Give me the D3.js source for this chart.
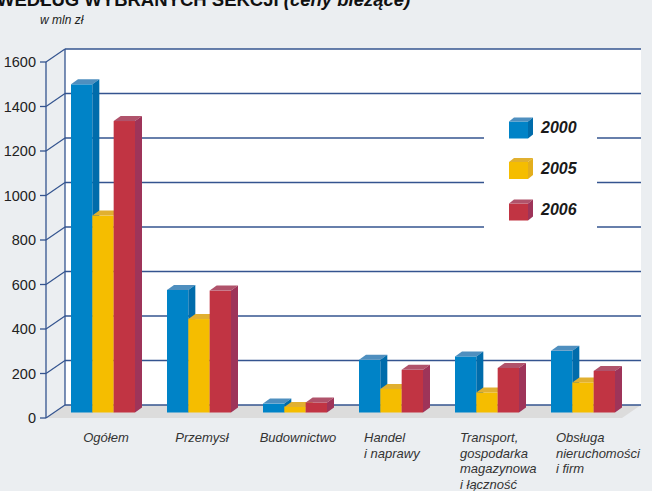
<!DOCTYPE html>
<html><head><meta charset="utf-8">
<script src="https://cdn.jsdelivr.net/npm/d3@7"></script>
<style>
html,body{margin:0;padding:0;background:#EBEEF1;}
svg{display:block;font-family:"Liberation Sans",Arial,sans-serif;}
</style></head>
<body>
<svg id="chart" width="652" height="491"></svg>
<script>
const categories = [["Ogółem"],["Przemysł"],["Budownictwo"],["Handel","i naprawy"],["Transport,","gospodarka","magazynowa","i łączność"],["Obsługa","nieruchomości","i firm"]];
const seriesNames = ["2000","2005","2006"];
const values2000 = [1475, 551, 40, 237, 252, 277];
const values2005 = [885, 420, 25, 106, 90, 135];
const values2006 = [1310, 548, 45, 192, 200, 187];
const yTicks = [0,200,400,600,800,1000,1200,1400,1600];

const seriesValues = [values2000, values2005, values2006];
const colors = [
  {front:"#0083C7", side:"#006CAB", top:"#4F8FBF"},
  {front:"#F5BD00", side:"#E3AE1C", top:"#E1B030"},
  {front:"#C13443", side:"#9E3459", top:"#B0536B"}
];

const svg = d3.select("#chart");
const yFront = d3.scaleLinear().domain([0,1600]).range([418,62]);
const DX = 19, DY = -13;        // depth of the chart box
const BDX = 8, BDY = -5.5;      // bar plane offset from front
const bdx = 7, bdy = -5;        // bar depth
const xGroup = d3.scaleBand().domain(d3.range(categories.length)).range([39,647]).paddingInner(1/3).paddingOuter(1/3);
const xSeries = d3.scaleBand().domain(d3.range(3)).range([0, xGroup.bandwidth()]);

// title (cut off at top, as in the reference)
const title = svg.append("text").attr("x",-3).attr("y",6).attr("font-size",18.5).attr("font-weight","bold").attr("fill","#111");
title.append("tspan").text("WEDŁUG WYBRANYCH SEKCJI ");
title.append("tspan").attr("font-style","italic").text("(ceny bieżące)");

svg.append("text").attr("x",40).attr("y",24).attr("font-size",12).attr("font-style","italic").attr("fill","#222").text("w mln zł");

// back wall
const backLeft = 46+DX, backRight = 641;
svg.append("rect").attr("x",backLeft).attr("y",yFront(1600)+DY).attr("width",backRight-backLeft).attr("height",yFront(0)-yFront(1600)).attr("fill","#fff");
// floor
svg.append("polygon").attr("points",[[46,yFront(0)],[backLeft,yFront(0)+DY],[backRight,yFront(0)+DY],[backRight-DX,yFront(0)]].join(" ")).attr("fill","#DCDCDC");

const lineColor = "#34548F";
svg.selectAll("line.grid").data(yTicks).enter().append("line")
  .attr("x1",backLeft).attr("x2",backRight)
  .attr("y1",d=>yFront(d)+DY).attr("y2",d=>yFront(d)+DY)
  .attr("stroke",lineColor).attr("stroke-width",1.3);
svg.append("line").attr("x1",backLeft).attr("x2",backLeft).attr("y1",yFront(1600)+DY).attr("y2",yFront(0)+DY).attr("stroke",lineColor).attr("stroke-width",1.3);
svg.selectAll("line.diag").data(yTicks).enter().append("line")
  .attr("x1",46).attr("x2",backLeft).attr("y1",d=>yFront(d)).attr("y2",d=>yFront(d)+DY)
  .attr("stroke",lineColor).attr("stroke-width",1.2);
svg.append("line").attr("x1",46).attr("x2",46).attr("y1",yFront(1600)).attr("y2",yFront(0)).attr("stroke",lineColor).attr("stroke-width",1.3);
svg.selectAll("line.tick").data(yTicks).enter().append("line")
  .attr("x1",40).attr("x2",46).attr("y1",d=>yFront(d)).attr("y2",d=>yFront(d))
  .attr("stroke",lineColor).attr("stroke-width",1.3);
svg.selectAll("text.ytick").data(yTicks).enter().append("text")
  .attr("x",36).attr("y",d=>yFront(d)+5).attr("text-anchor","end").attr("font-size",14.5).attr("fill","#222").text(d=>d);

// legend box
svg.append("rect").attr("x",484).attr("y",99).attr("width",113).attr("height",130).attr("fill","#fff");

// bars
const yBar = v => yFront(v) + BDY;
const base = yBar(0);
const bw = xSeries.bandwidth();
categories.forEach((cat, gi) => {
  seriesValues.forEach((vals, si) => {
    const v = vals[gi];
    const x = xGroup(gi) + xSeries(si);
    const y = yBar(v);
    const g = svg.append("g");
    const c = colors[si];
    g.append("rect").attr("x",x).attr("y",y).attr("width",bw).attr("height",base-y).attr("fill",c.front);
    g.append("polygon").attr("points",[[x,y],[x+bdx,y+bdy],[x+bw+bdx,y+bdy],[x+bw,y]].join(" ")).attr("fill",c.top);
    g.append("polygon").attr("points",[[x+bw,y],[x+bw+bdx,y+bdy],[x+bw+bdx,base+bdy],[x+bw,base]].join(" ")).attr("fill",c.side);
  });
});

// category labels
categories.forEach((lines, gi) => {
  const center = xGroup(gi) + xGroup.bandwidth()/2 + 3;
  const t = svg.append("text").attr("font-size",13).attr("font-style","italic").attr("fill","#333");
  if (lines.length === 1) {
    t.attr("x",center).attr("y",442).attr("text-anchor","middle").text(lines[0]);
  } else {
    const x0 = xGroup(gi) + 5;
    lines.forEach((l, li) => {
      t.append("tspan").attr("x",x0).attr("y",442 + li*15.5).text(l);
    });
  }
});

// legend
const legY = [121.5, 162, 203.5];
seriesNames.forEach((name, i) => {
  const c = colors[i];
  const x = 509, y = legY[i], w = 19, h = 17, dx = 5, dy = -4;
  svg.append("rect").attr("x",x).attr("y",y).attr("width",w).attr("height",h).attr("fill",c.front);
  svg.append("polygon").attr("points",[[x,y],[x+dx,y+dy],[x+w+dx,y+dy],[x+w,y]].join(" ")).attr("fill",c.top);
  svg.append("polygon").attr("points",[[x+w,y],[x+w+dx,y+dy],[x+w+dx,y+h+dy],[x+w,y+h]].join(" ")).attr("fill",c.side);
  svg.append("text").attr("x",541).attr("y",y+h-5.5).attr("font-size",16).attr("font-weight","bold").attr("font-style","italic").attr("fill","#1a1a1a").text(name);
});
</script>
</body></html>
